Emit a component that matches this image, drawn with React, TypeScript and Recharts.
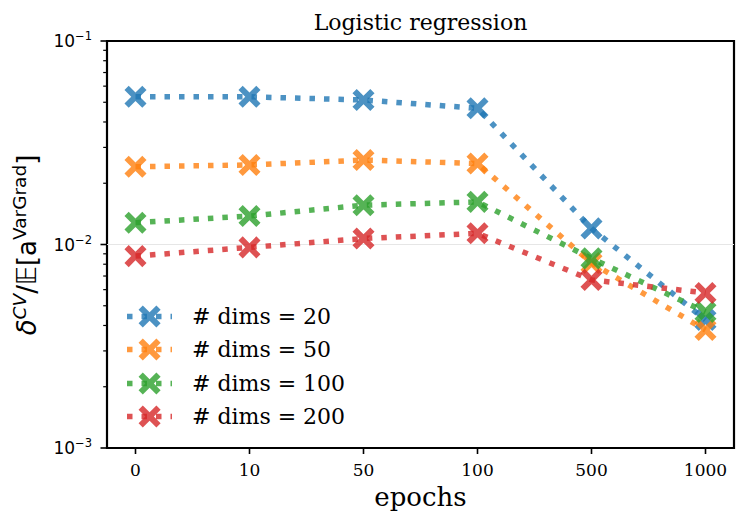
import React from "react";
import {
  Legend,
  Line,
  LineChart,
  ReferenceArea,
  ReferenceLine,
  XAxis,
  YAxis,
} from "recharts";

const epochs = ["0", "10", "50", "100", "500", "1000"];
const dims20 = [0.0532, 0.0532, 0.0513, 0.0467, 0.012, 0.00426];
const dims50 = [0.0241, 0.0246, 0.026, 0.025, 0.00811, 0.0038];
const dims100 = [0.0128, 0.0138, 0.0156, 0.0162, 0.00855, 0.00466];
const dims200 = [0.00877, 0.00968, 0.0107, 0.01135, 0.0067, 0.00578];

const majorTicks = [0.001, 0.01, 0.1];
const minorTicks = [2, 3, 4, 5, 6, 7, 8, 9].flatMap((m) => [m * 0.001, m * 0.01]);

const series = [
  { key: "d20", name: "# dims = 20", color: "#1f77b4", values: dims20 },
  { key: "d50", name: "# dims = 50", color: "#ff7f0e", values: dims50 },
  { key: "d100", name: "# dims = 100", color: "#2ca02c", values: dims100 },
  { key: "d200", name: "# dims = 200", color: "#d62728", values: dims200 },
];

const data = epochs.map((e, i) => {
  const row: Record<string, number | string> = { idx: i, epoch: e };
  series.forEach((s) => (row[s.key] = s.values[i]));
  return row;
});

const serif = "'DejaVu Serif', serif";
const sans = "'DejaVu Sans', sans-serif";

// filled "X" marker, like matplotlib's 'X'
function XMark({ cx, cy, color }: { cx: number; cy: number; color: string }) {
  const r = 12.6;
  const w = 3;
  const pts = [
    [-w, -r], [w, -r], [w, -w], [r, -w], [r, w], [w, w],
    [w, r], [-w, r], [-w, w], [-r, w], [-r, -w], [-w, -w],
  ]
    .map((p) => p.join(","))
    .join(" ");
  return (
    <polygon
      points={pts}
      transform={`translate(${cx},${cy}) rotate(45)`}
      fill={color}
      fillOpacity={0.8}
    />
  );
}

function YTick(props: any) {
  const { x, y, payload } = props;
  const v = payload.value as number;
  const exp = Math.round(Math.log10(v));
  const major = Math.abs(Math.log10(v) - exp) < 1e-6;
  const len = major ? 6.5 : 3.8;
  return (
    <g>
      <line x1={x} x2={x - len} y1={y} y2={y} stroke="#000" strokeWidth={major ? 1.6 : 1.2} />
      {major && (
        <text x={x - 15} y={y + 6} textAnchor="end" fontFamily={sans} fontSize={17} fill="#000">
          10
          <tspan dy={-6.7} fontSize={11.5}>
            {"\u2212" + Math.abs(exp)}
          </tspan>
        </text>
      )}
    </g>
  );
}

function LegendBox({ payload }: any) {
  const items = series
    .map((s) => (payload || []).find((p: any) => p.value === s.name))
    .filter(Boolean);
  return (
    <div>
      {items.map((p: any) => (
        <div key={p.value} style={{ display: "flex", alignItems: "center", height: 33.3 }}>
          <svg width={65} height={33} style={{ display: "block" }}>
            <line
              x1={0}
              x2={45}
              y1={16.5}
              y2={16.5}
              stroke={p.color}
              strokeOpacity={0.8}
              strokeWidth={5.5}
              strokeDasharray="5.5 9"
            />
            <XMark cx={22.6} cy={16.5} color={p.color} />
          </svg>
          <span style={{ fontFamily: serif, fontSize: 22, color: "#000", lineHeight: "33px" }}>
            {p.value}
          </span>
        </div>
      ))}
    </div>
  );
}

export default function App() {
  return (
    <div style={{ position: "absolute", left: 0, top: 0, width: 748, height: 526, background: "#fff" }}>
      <LineChart
        width={748}
        height={526}
        data={data}
        margin={{ top: 41, right: 14, left: 47, bottom: 48 }}
      >
        <XAxis
          dataKey="idx"
          type="number"
          domain={[-0.25, 5.25]}
          ticks={[0, 1, 2, 3, 4, 5]}
          interval={0}
          tickFormatter={(i: number) => epochs[i]}
          axisLine={false}
          tickLine={{ stroke: "#000", strokeWidth: 1.6 }}
          tickSize={6}
          tickMargin={10}
          height={30}
          tick={{ fontFamily: serif, fontSize: 17, fill: "#000" }}
        />
        <YAxis
          type="number"
          scale="log"
          domain={[0.001, 0.1]}
          allowDataOverflow
          ticks={[...majorTicks, ...minorTicks]}
          interval={0}
          axisLine={false}
          tickLine={false}
          tickSize={0}
          tickMargin={0}
          width={60}
          tick={<YTick />}
        />
        <ReferenceLine y={0.01} stroke="#e6e6e6" strokeWidth={1} />
        {series.map((s) => (
          <Line
            key={s.key}
            dataKey={s.key}
            name={s.name}
            stroke={s.color}
            strokeOpacity={0.8}
            strokeWidth={5.5}
            strokeDasharray="5.5 9"
            type="linear"
            isAnimationActive={false}
            dot={(p: any) => <XMark key={`${s.key}-${p.index}`} cx={p.cx} cy={p.cy} color={s.color} />}
            activeDot={false}
          />
        ))}
        <ReferenceArea
          x1={-0.25}
          x2={5.25}
          y1={0.001}
          y2={0.1}
          fill="none"
          stroke="#000"
          strokeWidth={2.2}
          ifOverflow="visible"
        />
        <Legend
          layout="vertical"
          align="center"
          verticalAlign="middle"
          content={<LegendBox />}
          wrapperStyle={{ left: 127, top: 300, width: 250, height: 135 }}
        />
      </LineChart>
      <svg
        width={748}
        height={526}
        style={{ position: "absolute", left: 0, top: 0, pointerEvents: "none" }}
      >
        <text x={420.5} y={30} textAnchor="middle" fontFamily={serif} fontSize={22} fill="#000">
          Logistic regression
        </text>
        <text x={420.5} y={506} textAnchor="middle" fontFamily={serif} fontSize={26} fill="#000">
          epochs
        </text>
        <text
          transform="translate(36,245) rotate(-90)"
          textAnchor="middle"
          fontFamily={sans}
          fontSize={26}
          fill="#000"
        >
          <tspan fontStyle="italic">δ</tspan>
          <tspan dy={-10} fontSize={18.5} fontStyle="italic">CV</tspan>
          <tspan dy={10}>/𝔼[a</tspan>
          <tspan dy={-10} fontSize={18.5}>VarGrad</tspan>
          <tspan dy={10}>]</tspan>
        </text>
      </svg>
    </div>
  );
}
